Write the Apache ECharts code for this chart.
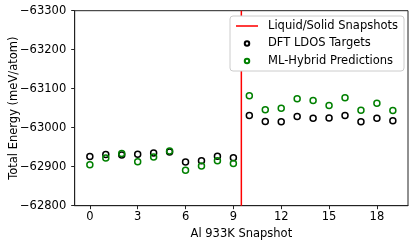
<!DOCTYPE html>
<html><head><meta charset="utf-8">
<script src="https://cdn.jsdelivr.net/npm/echarts@6/dist/echarts.min.js"></script>
<style>html,body{margin:0;padding:0;background:#fff}#c{width:415px;height:245px}</style>
</head><body><div id="c"></div>
<script>
const snapshots = [0,1,2,3,4,5,6,7,8,9,10,11,12,13,14,15,16,17,18,19];
const dftTargets = [-62926,-62931,-62930,-62932,-62935,-62938,-62912,-62915,-62927,-62923,
                    -63031,-63016,-63015,-63029,-63024,-63025,-63031,-63015,-63024,-63018];
const mlPredictions = [-62905,-62922,-62934,-62913,-62925,-62940,-62891,-62902,-62915,-62908,
                       -63082,-63046,-63050,-63074,-63070,-63057,-63077,-63045,-63063,-63044];
const splitX = 9.5;
const yTop = -63300, yBottom = -62800;
const xTicks = [0,3,6,9,12,15,18];

const font = 'DejaVu Sans';
const fs = 11.5;
const chart = echarts.init(document.getElementById('c'));
const minus = v => String(v).replace('-', '\u2212');
chart.setOption({
  animation: false,
  textStyle: {fontFamily: font},
  grid: {left: 74.7, right: 7, top: 10.7, bottom: 39.3, show: true, borderColor: '#222', borderWidth: 1,
         containLabel: false, outerBoundsMode: 'none'},
  legend: {
    orient: 'vertical', right: 11, top: 16,
    backgroundColor: '#fff', borderColor: '#ccc', borderWidth: 1, borderRadius: 3,
    padding: [3, 6, 3, 6], itemWidth: 22, itemHeight: 4.5, itemGap: 3.5,
    textStyle: {fontFamily: font, fontSize: fs, lineHeight: 14, color: '#000', padding: [0,0,0,5]},
    data: [
      {name: 'Liquid/Solid Snapshots', icon: 'path://M0,0H100V7H0Z'},
      'DFT LDOS Targets', 'ML-Hybrid Predictions'
    ]
  },
  xAxis: {
    type: 'value', min: -0.95, max: 19.95,
    name: 'Al 933K Snapshot', nameLocation: 'middle', nameGap: 22.5, nameMoveOverlap: false,
    nameTextStyle: {fontFamily: font, fontSize: fs, color: '#000'},
    axisLine: {show: true, onZero: false, lineStyle: {color: '#222', width: 1}},
    axisTick: {show: true, length: 3.5, customValues: xTicks, lineStyle: {color: '#222'}},
    axisLabel: {customValues: xTicks, fontFamily: font, fontSize: fs, color: '#000', margin: 5},
    splitLine: {show: false}
  },
  yAxis: {
    type: 'value', min: yTop, max: yBottom, interval: 100, inverse: true,
    name: 'Total Energy (meV/atom)', nameLocation: 'middle', nameGap: 55, nameMoveOverlap: false,
    nameTextStyle: {fontFamily: font, fontSize: fs, color: '#000'},
    axisLine: {show: true, onZero: false, lineStyle: {color: '#222', width: 1}},
    axisTick: {show: true, length: 3.5, lineStyle: {color: '#222'}},
    axisLabel: {fontFamily: font, fontSize: fs, color: '#000', margin: 8.5, formatter: minus},
    splitLine: {show: false}
  },
  series: [
    {
      name: 'Liquid/Solid Snapshots', type: 'line', symbol: 'none', silent: true,
      lineStyle: {color: '#ff0000', width: 1.5}, itemStyle: {color: '#ff0000'},
      data: [[splitX, yTop], [splitX, yBottom]], z: 1
    },
    {
      name: 'DFT LDOS Targets', type: 'scatter', symbol: 'circle', symbolSize: 6,
      itemStyle: {color: 'rgba(0,0,0,0)', borderColor: '#000', borderWidth: 1.5, opacity: 1},
      data: snapshots.map((s, i) => [s, dftTargets[i]]), z: 2
    },
    {
      name: 'ML-Hybrid Predictions', type: 'scatter', symbol: 'circle', symbolSize: 6,
      itemStyle: {color: 'rgba(0,0,0,0)', borderColor: '#008000', borderWidth: 1.5, opacity: 1},
      data: snapshots.map((s, i) => [s, mlPredictions[i]]), z: 3
    }
  ]
});
</script></body></html>
